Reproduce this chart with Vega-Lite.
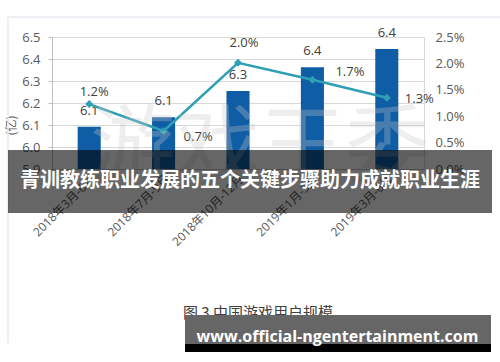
{
  "$schema": "https://vega.github.io/schema/vega-lite/v6.json",
  "width": 372,
  "height": 132,
  "autosize": "none",
  "padding": {"left": 52, "top": 37, "right": 76, "bottom": 193},
  "background": "white",
  "config": {
    "view": {"stroke": "#d9d9d9"},
    "font": "Open Sans, Noto Sans CJK SC",
    "axis": {"labelFont": "Open Sans, Noto Sans CJK SC", "labelColor": "#595959", "titleFont": "Noto Sans CJK SC"}
  },
  "datasets": {
    "users": [
      {"period": "2018年3月-6月", "users": 6.092, "usersLabel": "6.1", "growth": 0.0123, "growthLabel": "1.2%"},
      {"period": "2018年7月-9月", "users": 6.135, "usersLabel": "6.1", "growth": 0.0072, "growthLabel": "0.7%"},
      {"period": "2018年10月-12月", "users": 6.255, "usersLabel": "6.3", "growth": 0.0201, "growthLabel": "2.0%"},
      {"period": "2019年1月-3月", "users": 6.362, "usersLabel": "6.4", "growth": 0.0169, "growthLabel": "1.7%"},
      {"period": "2019年3月-6月", "users": 6.445, "usersLabel": "6.4", "growth": 0.0135, "growthLabel": "1.3%"}
    ],
    "overlay": [
      {"part": "watermark", "x0": 3.296, "y0": 5.986, "text": "游戏王委"},
      {"part": "frameTop", "x0": -0.0914, "x1": 6.7, "y0": 6.5909},
      {"part": "frameLeft", "x0": -0.0914, "y0": 6.5909, "y1": 5.1091},
      {"part": "banner", "x0": -0.0914, "x1": 6.414, "y0": 5.9864, "y1": 5.7},
      {"part": "bannerText", "x0": 3.161, "y0": 5.8455, "text": "青训教练职业发展的五个关键步骤助力成就职业生涯"},
      {"part": "caption", "x0": 2.2608, "y0": 5.2455, "text": "图 3  中国游戏用户规模"},
      {"part": "box", "x0": 2.2876, "x1": 6.4005, "y0": 5.2364, "y1": 5.0682},
      {"part": "strip", "x0": 2.2876, "x1": 6.4005, "y0": 5.1045, "y1": 5.0682},
      {"part": "url", "x0": 4.3374, "y0": 5.1377, "text": "www.official-ngentertainment.com"}
    ]
  },
  "layer": [
    {
      "data": {"name": "users"},
      "encoding": {
        "x": {
          "field": "period", "type": "nominal", "sort": null,
          "scale": {"paddingInner": 0.69, "paddingOuter": 0.345},
          "axis": {"title": null, "labelAngle": -45, "labelFontSize": 12, "ticks": false, "domainColor": "#bfbfbf", "labelPadding": 4, "grid": false}
        }
      },
      "layer": [
        {
          "encoding": {
            "y": {
              "field": "users", "type": "quantitative",
              "scale": {"domain": [5.9, 6.5], "zero": false, "nice": false},
              "axis": {
                "orient": "left", "values": [5.9, 6.0, 6.1, 6.2, 6.3, 6.4, 6.5], "format": ".1f",
                "grid": true, "gridColor": "#d9d9d9", "domainColor": "#bfbfbf", "tickColor": "#bfbfbf",
                "tickSize": 4, "labelPadding": 8, "labelFontSize": 13,
                "title": "(亿)", "titleFontSize": 12, "titleFontWeight": "normal", "titleColor": "#595959",
                "titleX": -41, "titleY": 88, "titleAlign": "center", "titleBaseline": "middle"
              }
            }
          },
          "layer": [
            {"mark": {"type": "bar", "color": "#0F5DA5"}, "encoding": {"y2": {"datum": 5.9}}},
            {"mark": {"type": "text", "fontSize": 13, "color": "#404040", "baseline": "middle", "dy": -16}, "encoding": {"text": {"field": "usersLabel"}}}
          ]
        },
        {
          "encoding": {
            "y": {
              "field": "growth", "type": "quantitative",
              "scale": {"domain": [0, 0.025], "nice": false},
              "axis": {
                "orient": "right", "values": [0, 0.005, 0.01, 0.015, 0.02, 0.025], "format": ".1%",
                "ticks": false, "domain": false, "grid": false, "labelPadding": 11, "labelFontSize": 13, "title": null
              }
            }
          },
          "layer": [
            {"mark": {"type": "line", "color": "#2E9FB5", "strokeWidth": 2.5}},
            {"mark": {"type": "point", "shape": "diamond", "filled": true, "size": 64, "color": "#2E9FB5", "opacity": 1}},
            {"transform": [{"filter": "datum.period === '2018年3月-6月'"}], "mark": {"type": "text", "fontSize": 13, "color": "#404040", "baseline": "middle", "align": "center", "dx": 5, "dy": -12}, "encoding": {"text": {"field": "growthLabel"}}},
            {"transform": [{"filter": "datum.period === '2018年7月-9月'"}], "mark": {"type": "text", "fontSize": 13, "color": "#404040", "baseline": "middle", "align": "left", "dx": 20, "dy": 6}, "encoding": {"text": {"field": "growthLabel"}}},
            {"transform": [{"filter": "datum.period === '2018年10月-12月'"}], "mark": {"type": "text", "fontSize": 13, "color": "#404040", "baseline": "middle", "align": "center", "dx": 6, "dy": -20}, "encoding": {"text": {"field": "growthLabel"}}},
            {"transform": [{"filter": "datum.period === '2019年1月-3月'"}], "mark": {"type": "text", "fontSize": 13, "color": "#404040", "baseline": "middle", "align": "left", "dx": 23, "dy": -8}, "encoding": {"text": {"field": "growthLabel"}}},
            {"transform": [{"filter": "datum.period === '2019年3月-6月'"}], "mark": {"type": "text", "fontSize": 13, "color": "#404040", "baseline": "middle", "align": "left", "dx": 18, "dy": 1}, "encoding": {"text": {"field": "growthLabel"}}}
          ]
        }
      ],
      "resolve": {"scale": {"y": "independent"}}
    },
    {
      "data": {"name": "overlay"},
      "encoding": {
        "x": {"field": "x0", "type": "quantitative", "scale": {"domain": [0.5, 5.5], "nice": false, "zero": false}, "axis": null},
        "y": {"field": "y0", "type": "quantitative", "scale": {"domain": [5.9, 6.5], "nice": false, "zero": false}, "axis": null}
      },
      "layer": [
        {"transform": [{"filter": "datum.part === 'watermark'"}], "mark": {"type": "text", "font": "Noto Sans CJK SC", "fontSize": 85, "color": "#c8c8c8", "opacity": 0.3, "baseline": "middle", "align": "center"}, "encoding": {"text": {"field": "text"}}},
        {"transform": [{"filter": "datum.part === 'frameTop'"}], "mark": {"type": "rule", "color": "#e6ebf2", "strokeWidth": 1.5}, "encoding": {"x2": {"field": "x1"}}},
        {"transform": [{"filter": "datum.part === 'frameLeft'"}], "mark": {"type": "rule", "color": "#e6ebf2", "strokeWidth": 1.5}, "encoding": {"y2": {"field": "y1"}}},
        {"transform": [{"filter": "datum.part === 'banner'"}], "mark": {"type": "rect", "color": "#000000", "opacity": 0.6}, "encoding": {"x2": {"field": "x1"}, "y2": {"field": "y1"}}},
        {"transform": [{"filter": "datum.part === 'bannerText'"}], "mark": {"type": "text", "font": "Noto Sans CJK SC", "fontSize": 20, "fontWeight": "bold", "color": "#ffffff", "baseline": "middle", "align": "center"}, "encoding": {"text": {"field": "text"}}},
        {"transform": [{"filter": "datum.part === 'caption'"}], "mark": {"type": "text", "font": "Noto Sans CJK SC", "fontSize": 15, "color": "#404040", "baseline": "middle", "align": "left"}, "encoding": {"text": {"field": "text"}}},
        {"transform": [{"filter": "datum.part === 'box'"}], "mark": {"type": "rect", "color": "#666666", "opacity": 1}, "encoding": {"x2": {"field": "x1"}, "y2": {"field": "y1"}}},
        {"transform": [{"filter": "datum.part === 'strip'"}], "mark": {"type": "rect", "color": "#000000", "opacity": 1}, "encoding": {"x2": {"field": "x1"}, "y2": {"field": "y1"}}},
        {"transform": [{"filter": "datum.part === 'url'"}], "mark": {"type": "text", "font": "Open Sans", "fontSize": 16, "fontWeight": "bold", "color": "#ffffff", "baseline": "middle", "align": "center"}, "encoding": {"text": {"field": "text"}}}
      ]
    }
  ],
  "resolve": {"scale": {"x": "independent", "y": "independent"}}
}
